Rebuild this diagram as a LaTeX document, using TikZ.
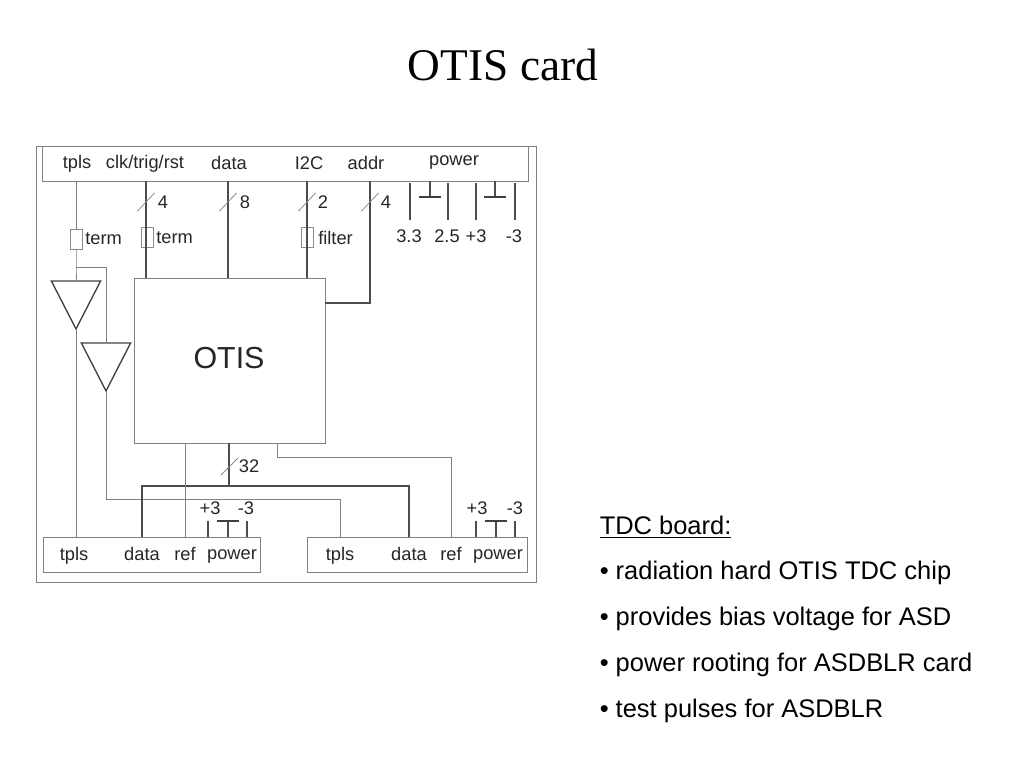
\documentclass[tikz,border=0pt]{standalone}
\usepackage{fontspec}
\setmainfont{Liberation Sans}
\newfontfamily\titlefont{Liberation Serif}
\usetikzlibrary{shapes.geometric}
\tikzset{
  box/.style={draw=black!50, line width=0.75pt, inner sep=0pt, outer sep=0pt},
  smallbox/.style={box, draw=black!45, line width=0.6pt, minimum width=9pt, minimum height=15pt},
  wire/.style={black!70, line width=0.9pt},
  thinwire/.style={black!50, line width=0.75pt},
  slash/.style={black!45, line width=0.6pt},
  rail/.style={black!75, line width=2pt},
  lbl/.style={inner sep=0pt, anchor=base, text=black!85, font=\fontsize{13.7}{16}\selectfont},
  txt/.style={inner sep=0pt, anchor=west, font=\fontsize{19.1}{23}\selectfont},
  amp/.style={draw=black!75, line width=1pt, isosceles triangle, isosceles triangle stretches,
    shape border rotate=-90, inner sep=0pt, outer sep=0pt},
}
\begin{document}
\begin{tikzpicture}[x=0.75pt, y=-0.75pt]
    \useasboundingbox (0,0) rectangle (1024,768);
    \node[inner sep=0pt, font=\titlefont\fontsize{34}{40}\selectfont] (title) at (503,65) {OTIS card};
    % boxes
    \node[box, minimum width=375pt, minimum height=327pt] (frame) at (286,364) {};
    \node[box, minimum width=364pt, minimum height=26.25pt] (topbar) at (285.5,163.5) {};
    \node[box, minimum width=143.25pt, minimum height=123.75pt] (otis) at (229.5,360.5) {};
    \node[box, minimum width=162.75pt, minimum height=26.25pt] (cardA) at (151.5,554.5) {};
    \node[box, minimum width=165pt, minimum height=26.25pt] (cardB) at (417,554.5) {};
    \node[smallbox] (termA) at (76,239) {};
    \node[smallbox] (termB) at (147,237) {};
    \node[smallbox] (filt) at (307.5,237) {};
    \node[amp, minimum width=37pt, minimum height=36pt] (ampA) at (76,296) {};
    \node[amp, minimum width=37pt, minimum height=36pt] (ampB) at (106,358) {};
    % top bar labels
    \node[lbl] (tplsT) at (77,168.5) {tpls};
    \node[lbl] (clkT) at (145,168.5) {clk/trig/rst};
    \node[lbl] (dataT) at (229,169) {data};
    \node[lbl] (iicT) at (309,169) {I2C};
    \node[lbl] (addrT) at (366,169) {addr};
    \node[lbl] (powerT) at (454,165.5) {power};
    \node[lbl, font=\fontsize{22.8}{26}\selectfont] (otisL) at (229,368) {OTIS};
    \node[lbl, anchor=base west] (termAL) at (85,244) {term};
    \node[lbl, anchor=base west] (termBL) at (156,243) {term};
    \node[lbl, anchor=base west] (filtL) at (318,244) {filter};
    % bus widths
    \node[lbl] (nclk) at (163,208) {4};
    \node[lbl] (ndata) at (245,208) {8};
    \node[lbl] (niic) at (323,208) {2};
    \node[lbl] (naddr) at (386,208) {4};
    \node[lbl] (nout) at (249,472) {32};
    % power labels
    \node[lbl] (v33) at (409,242) {3.3};
    \node[lbl] (v25) at (447,242) {2.5};
    \node[lbl] (vp) at (476,242) {+3};
    \node[lbl] (vm) at (514,242) {-3};
    \node[lbl] (vpA) at (210,514) {+3};
    \node[lbl] (vmA) at (246,514) {-3};
    \node[lbl] (vpB) at (477,514) {+3};
    \node[lbl] (vmB) at (515,514) {-3};
    % card labels
    \node[lbl] (tplsA) at (74,560) {tpls};
    \node[lbl] (dataA) at (142,560) {data};
    \node[lbl] (refA) at (185,560) {ref};
    \node[lbl] (powerA) at (232,559.5) {power};
    \node[lbl] (tplsB) at (340,560) {tpls};
    \node[lbl] (dataB) at (409,560) {data};
    \node[lbl] (refB) at (451,560) {ref};
    \node[lbl] (powerB) at (498,559.5) {power};
    % tpls
    \coordinate (tap) at (76,267);
    \coordinate (tapB) at (106,267);
    \coordinate (tplsBturnA) at (106,499);
    \coordinate (tplsBturnB) at (340,499);
    \draw[thinwire] (76,181) -- (termA.north);
    \draw[thinwire] (termA.south) -- (tap) -- (ampA.lower side);
    \draw[thinwire] (tap) -- (tapB) -- (ampB.lower side);
    \draw[thinwire] (ampA.apex) -- (76,537);
    \draw[thinwire] (ampB.apex) -- (tplsBturnA) -- (tplsBturnB) -- (340,537);
    % buses to otis
    \draw[wire] (146,181) -- (146,278);
    \draw[wire] (228,181) -- (228,278);
    \draw[wire] (307,181) -- (307,278);
    \draw[wire] (370,181) -- (370,303) -- (325,303);
    \foreach \xx in {146,228,307,370}
      \draw[slash] (\xx-8.5,211) -- (\xx+8.5,193);
    % otis to cards
    \draw[wire] (229,443) -- (229,486);
    \draw[slash] (221,475) -- (238,458);
    \draw[wire] (142,537) -- (142,486) -- (409,486) -- (409,537);
    \draw[thinwire] (185,443) -- (185,537);
    \draw[thinwire] (277,443) -- (277,457) -- (451,457) -- (451,537);
    % power
    \foreach \xx in {410,448,476,515}
      \draw[wire] (\xx,183) -- (\xx,220);
    \foreach \xx in {430,495} {
      \draw[wire] (\xx,181) -- (\xx,197);
      \draw[rail] (\xx-11,197) -- (\xx+11,197);
    }
    \foreach \xx in {208,247,476,515}
      \draw[wire] (\xx,521) -- (\xx,537);
    \foreach \xx in {228,496} {
      \draw[wire] (\xx,537) -- (\xx,521);
      \draw[rail] (\xx-11,521) -- (\xx+11,521);
    }
    % text on the right
    \node[txt] (head) at (599.5,527) {\underline{TDC board:}};
    \node[txt] (itemA) at (599.5,573) {• radiation hard OTIS TDC chip};
    \node[txt] (itemB) at (599.5,619) {• provides bias voltage for ASD};
    \node[txt] (itemC) at (599.5,665) {• power rooting for ASDBLR card};
    \node[txt] (itemD) at (599.5,711) {• test pulses for ASDBLR};
\end{tikzpicture}
\end{document}
